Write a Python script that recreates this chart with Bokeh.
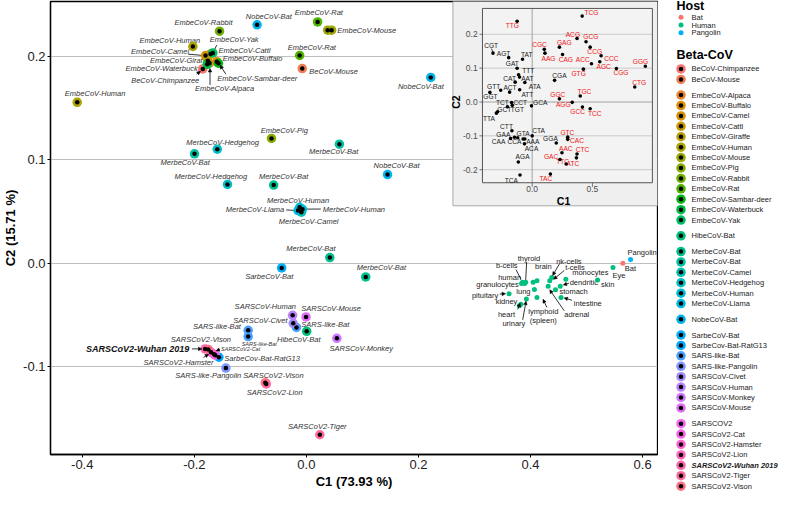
import math
from bokeh.plotting import figure
from bokeh.models import (ColumnDataSource, Range1d, FixedTicker, NumeralTickFormatter,
                          Arrow, NormalHead)
from bokeh.layouts import row
from bokeh.embed import file_html
from bokeh.resources import INLINE
from bokeh.core.properties import value

FONT = "Liberation Sans"

# ------------------------------------------------------------------ data
beta_names = [
    "BeCoV-Chimpanzee", "BeCoV-Mouse",
    "EmbeCoV-Alpaca", "EmbeCoV-Buffalo", "EmbeCoV-Camel", "EmbeCoV-Cattl", "EmbeCoV-Giraffe",
    "EmbeCoV-Human", "EmbeCoV-Mouse", "EmbeCoV-Pig", "EmbeCoV-Rabbit", "EmbeCoV-Rat",
    "EmbeCoV-Sambar-deer", "EmbeCoV-Waterbuck", "EmbeCoV-Yak",
    "HibeCoV-Bat",
    "MerbeCoV-Bat", "MerbeCoV-Bat", "MerbeCoV-Camel", "MerbeCoV-Hedgehog", "MerbeCoV-Human",
    "MerbeCoV-Llama",
    "NobeCoV-Bat",
    "SarbeCoV-Bat", "SarbeCov-Bat-RatG13", "SARS-like-Bat", "SARS-like-Pangolin",
    "SARSCoV-Civet", "SARSCoV-Human", "SARSCoV-Monkey", "SARSCoV-Mouse",
    "SARSCOV2", "SARSCoV2-Cat", "SARSCoV2-Hamster", "SARSCoV2-Lion", "SARSCoV2-Wuhan 2019",
    "SARSCoV2-Tiger", "SARSCoV2-Vison",
]
beta_groups = (["Be"] * 2 + ["Embe"] * 13 + ["Hibe"] + ["Merbe"] * 6 + ["Nobe"]
               + ["Sarbe"] * 8 + ["SARS2"] * 7)

host_names = ["Bat", "Human", "Pangolin"]
host_colors = ["#F8766D", "#00BF7D", "#00B0F6"]

# virus points: legend entry index, C1, C2
virus_entry = [0, 1, 2, 3, 4, 5, 6, 7, 7, 8, 8, 9, 10, 11, 11, 12, 13, 14, 15,
               17, 17, 16, 16, 16, 18, 19, 19, 20, 20, 21, 22, 22, 22, 23, 24,
               25, 25, 25, 26, 27, 28, 29, 30, 31, 32, 33, 34, 35, 36, 37, 37]
virus_c1 = [-0.185, -0.0074, -0.173, -0.160, -0.180, -0.171, -0.176, -0.2026, -0.409,
            0.038, 0.045, -0.0623, -0.155, 0.020, -0.012, -0.157, -0.177, -0.167, 0.0005,
            -0.1997, 0.0589, -0.0584, 0.0418, 0.1059, -0.009, -0.159, -0.1408, -0.012,
            -0.007, -0.015, -0.088, 0.222, 0.1448, -0.0441, -0.1562,
            -0.0177, -0.1039, -0.1039, -0.1437, -0.0235, -0.0246, 0.0544, -0.0006,
            -0.1626, -0.1648, -0.170, -0.0716, -0.1808, 0.024, -0.175, -0.0733]
virus_c2 = [0.188, 0.1884, 0.1937, 0.195, 0.201, 0.2025, 0.196, 0.2097, 0.1557,
            0.2255, 0.2255, 0.1208, 0.2245, 0.2335, 0.201, 0.1935, 0.1925, 0.2035, -0.0656,
            0.106, 0.1153, 0.0757, 0.0057, -0.0131, 0.0495, 0.1104, 0.0764, 0.0542,
            0.0523, 0.0511, 0.2307, 0.1798, 0.0859, -0.0044, -0.0906,
            -0.0619, -0.0646, -0.0707, -0.1011, -0.0579, -0.0502, -0.0724, -0.0517,
            -0.0887, -0.0878, -0.0859, -0.1165, -0.0826, -0.1656, -0.0831, -0.1153]

# labels of virus points (text, x, y, align, kind)
vlab_text = ["BeCoV-Chimpanzee", "BeCoV-Mouse", "EmbeCoV-Alpaca", "EmbeCoV-Buffalo",
             "EmbeCoV-Camel", "EmbeCoV-Cattl", "EmbeCoV-Giraffe", "EmbeCoV-Human",
             "EmbeCoV-Human", "EmbeCoV-Mouse", "EmbeCoV-Pig", "EmbeCoV-Rabbit", "EmbeCoV-Rat",
             "EmbeCoV-Rat", "EmbeCoV-Sambar-deer", "EmbeCoV-Waterbuck", "EmbeCoV-Yak",
             "HibeCoV-Bat", "MerbeCoV-Bat", "MerbeCoV-Bat", "MerbeCoV-Bat", "MerbeCoV-Bat",
             "MerbeCoV-Bat", "MerbeCoV-Camel", "MerbeCoV-Hedgehog", "MerbeCoV-Hedgehog",
             "MerbeCoV-Human", "MerbeCoV-Human", "MerbeCoV-Llama", "NobeCoV-Bat",
             "NobeCoV-Bat", "NobeCoV-Bat", "SarbeCoV-Bat", "SarbeCov-Bat-RatG13",
             "SARS-like-Bat", "SARS-like-Bat", "SARS-like-Bat", "SARS-like-Pangolin",
             "SARSCoV-Civet", "SARSCoV-Human", "SARSCoV-Monkey", "SARSCoV-Mouse",
             "SARSCoV2-Cat", "SARSCoV2-Hamster", "SARSCoV2-Lion", "SARSCoV2-Wuhan 2019",
             "SARSCoV2-Tiger", "SARSCoV2-Vison", "SARSCoV2-Vison"]
vlab_x = [-0.252, 0.0052, -0.146, -0.1494, -0.261, -0.1567, -0.2266, -0.2438, -0.377,
          0.055, -0.0395, -0.1837, 0.0223, 0.0098, -0.0876, -0.2584, -0.1288,
          -0.0137, -0.2163, 0.0486, -0.0407, 0.0081, 0.1339, 0.004, -0.1494, -0.1705,
          -0.0149, 0.0292, -0.0395, -0.067, 0.2043, 0.1609, -0.0664, -0.1464,
          -0.0091, -0.1597, -0.0841, -0.1751, -0.082, -0.0733, 0.0979, -0.0091,
          -0.1523, -0.2283, -0.0567, -0.2089, 0.0194, -0.1883, -0.0589]
vlab_y = [0.1764, 0.186, 0.169, 0.1977, 0.2051, 0.2054, 0.1958, 0.2159, 0.1646,
          0.2255, 0.1289, 0.2326, 0.2424, 0.2088, 0.1792, 0.1884, 0.2162,
          -0.0733, 0.098, 0.1079, 0.0844, 0.0146, -0.0039, 0.0409, 0.1171, 0.0838,
          0.0613, 0.0526, 0.0517, 0.2384, 0.1713, 0.0946, -0.0125, -0.0919,
          -0.0591, -0.0606, -0.078, -0.1088, -0.0554, -0.0421, -0.0819, -0.0437,
          -0.0831, -0.0961, -0.1248, -0.0826, -0.1579, -0.0739, -0.1079]
vlab_align = ["center", "left", "center", "left", "center", "left", "center", "center",
              "center", "left", "center", "center", "center", "center", "center", "center",
              "center", "center", "center", "center", "center", "center", "center", "center",
              "center", "center", "center", "left", "right", "center", "center", "center",
              "center", "left", "left", "center", "center", "center", "center", "center",
              "center", "left", "left", "center", "center", "right", "center", "center",
              "center"]
vlab_kind = ["n"] * 36 + ["s"] + ["n"] * 5 + ["s"] + ["n"] * 2 + ["b"] + ["n"] * 3

# leader lines / arrows of virus labels
vseg_x0 = [-0.211, -0.160, -0.036, 0.0258]
vseg_y0 = [0.2023, 0.2110, 0.0517, 0.0526]
vseg_x1 = [-0.184, -0.166, -0.018, -0.004]
vseg_y1 = [0.201, 0.2045, 0.0512, 0.0525]
varr_x0 = [-0.196, -0.172, -0.1437, -0.2043, -0.1545, -0.1837]
varr_y0 = [0.1829, 0.1725, 0.1829, -0.0826, -0.0831, -0.0909]
varr_x1 = [-0.189, -0.172, -0.154, -0.1865, -0.1612, -0.1745]
varr_y1 = [0.1857, 0.1885, 0.1915, -0.0826, -0.0845, -0.0878]

# host samples (tissues etc.)
tissue_name = ["skin", "monocytes", "dendritic", "stomach", "intestine", "adrenal", "t-cells",
               "nk-cells", "brain", "brain", "lung", "thyroid", "b-cells", "human",
               "granulocytes", "pituitary", "kidney", "heart", "urinary", "lymphoid (spleen)",
               "Eye", "Bat", "Pangolin"]
tissue_host = [1] * 21 + [0, 2]
tissue_c1 = [0.5196, 0.463, 0.453, 0.4446, 0.4544, 0.4315, 0.4343, 0.4378, 0.4115, 0.4046,
             0.4069, 0.3914, 0.3857, 0.384, 0.3895, 0.3617, 0.3926, 0.3828, 0.3799, 0.4115,
             0.5471, 0.5648, 0.5785]
tissue_c2 = [-0.0159, -0.0153, -0.022, -0.0255, -0.0329, -0.022, -0.0168, -0.0137, -0.0168,
             -0.0183, -0.0252, -0.0183, -0.0183, -0.0193, -0.0195, -0.0292, -0.0344, -0.0394,
             -0.0409, -0.0329, -0.0039, 0.0002, 0.0039]
tlab_text = ["skin", "monocytes", "dendritic", "stomach", "intestine", "adrenal", "t-cells",
             "nk-cells", "brain", "lung", "thyroid", "b-cells", "human", "granulocytes",
             "pituitary", "kidney", "heart", "urinary", "lymphoid\n(spleen)", "Eye", "Bat",
             "Pangolin"]
tlab_x = [0.5258, 0.4743, 0.4699, 0.4515, 0.4773, 0.4601, 0.4618, 0.4458, 0.4228, 0.400,
          0.3971, 0.3576, 0.3627, 0.3411, 0.3188, 0.3571, 0.3571, 0.3703, 0.4228, 0.5579,
          0.5682, 0.5991]
tlab_y = [-0.0206, -0.0091, -0.0183, -0.0276, -0.0387, -0.0498, -0.0039, 0.0023, -0.003,
          -0.0267, 0.0048, -0.0023, -0.0137, -0.0206, -0.031, -0.0369, -0.0498, -0.0585,
          -0.0505, -0.0116, -0.0046, 0.0109]
tlab_align = ["left"] * 8 + ["center", "right"] + ["center"] * 10 + ["left", "center"]
tseg_x0 = [0.3931, 0.3742]
tseg_y0 = [0.0014, -0.006]
tseg_x1 = [0.3914, 0.3828]
tseg_y1 = [-0.0162, -0.0153]
tarr_x0 = [0.4687, 0.4738, 0.4601, 0.4601, 0.4515, 0.3451, 0.377, 0.386, 0.4292]
tarr_y0 = [-0.019, -0.0356, -0.0458, -0.0069, -0.0005, -0.0296, -0.0445, -0.0545, -0.0425]
tarr_x1 = [0.4584, 0.460, 0.4343, 0.4412, 0.4395, 0.3554, 0.3815, 0.392, 0.4223]
tarr_y1 = [-0.0208, -0.0333, -0.0255, -0.0153, -0.0116, -0.0292, -0.0385, -0.0365, -0.0347]

# inset: codon coordinates (C1, C2) ; red = GC3 codons
codon_name = ["TTG", "TCG", "ACG", "GCG", "GAG", "CGC", "AAG", "CAG", "CCG", "ACC", "CCC",
              "AGC", "GTG", "CGG", "GGG", "CTG", "TGC", "GGC", "AGG", "GCC", "TCC", "GTC",
              "CAC", "AAC", "CTC", "GAC", "ATC", "TTC", "TAC",
              "CGT", "AGT", "TAT", "GAT", "TTT", "CAT", "AAT", "ATA", "ATT", "CGA", "GTT",
              "ACT", "GGT", "TCT", "CCT", "GCA", "TGT", "GCT", "TTA", "CTT", "GAA", "GTA",
              "CTA", "CAA", "CCA", "AAA", "ACA", "GGA", "AGA", "TCA"]
codon_red = [True] * 29 + [False] * 30
codon_c1 = [-0.125, 0.415, 0.372, 0.447, 0.226, 0.1006, 0.106, 0.252, 0.481, 0.492, 0.572,
            0.561, 0.425, 0.699, 0.939, 0.851, 0.399, 0.226, 0.332, 0.417, 0.481, 0.295,
            0.295, 0.247, 0.372, 0.231, 0.367, 0.282, 0.151,
            -0.325, -0.195, -0.08, -0.125, -0.113, -0.105, -0.061, -0.141, -0.104, 0.186,
            -0.351, -0.261, -0.187, -0.205, -0.171, -0.0056, -0.165, -0.287, -0.297, -0.168,
            -0.147, -0.075, 0.0, -0.179, -0.12, -0.061, -0.064, 0.2, -0.115, -0.101]
codon_c2 = [0.2385, 0.2537, 0.1876, 0.178, 0.162, 0.1556, 0.1443, 0.1405, 0.162, 0.113,
            0.1366, 0.119, 0.097, 0.099, 0.1055, 0.0444, 0.0178, 0.0093, -0.001, -0.015,
            -0.0198, -0.1038, -0.1103, -0.15, -0.1536, -0.1697, -0.165, -0.183, -0.213,
            0.1443, 0.131, 0.1264, 0.0999, 0.0806, 0.0735, 0.0574, 0.0586, 0.036, 0.064,
            0.0283, 0.0348, 0.0291, -0.0141, -0.0014, -0.0113, -0.0099, -0.029, -0.033,
            -0.0849, -0.104, -0.1095, -0.1, -0.108, -0.1055, -0.1095, -0.1236, -0.121,
            -0.1774, -0.2158]
codon_lx = [-0.165, 0.4916, 0.3376, 0.4868, 0.2658, 0.0607, 0.1357, 0.2793, 0.5188, 0.4198,
            0.6568, 0.593, 0.3855, 0.7366, 0.8986, 0.8883, 0.4334, 0.2123, 0.2578, 0.3775,
            0.5188, 0.2921, 0.3719, 0.2793, 0.4174, 0.1564, 0.3376, 0.2522, 0.1141,
            -0.3408, -0.237, -0.0455, -0.165, -0.0319, -0.1868, -0.0399, 0.0207, -0.0399,
            0.2259, -0.3192, -0.1836, -0.3464, -0.2474, -0.099, 0.0662, -0.1229, -0.2314,
            -0.3591, -0.2131, -0.2394, -0.075, 0.0527, -0.2793, -0.1468, 0.0048, -0.0056,
            0.1516, -0.0798, -0.1732]
codon_ly = [0.2263, 0.2639, 0.2008, 0.1924, 0.1762, 0.1689, 0.1293, 0.1264, 0.1491, 0.1264,
            0.1273, 0.1047, 0.0829, 0.0857, 0.1197, 0.0574, 0.0303, 0.0218, -0.0085, -0.0291,
            -0.0339, -0.0905, -0.1151, -0.1378, -0.1406, -0.1612, -0.1802, -0.1762, -0.2272,
            0.1678, 0.1443, 0.1406, 0.1132, 0.0942, 0.0707, 0.0707, 0.0472, 0.0235, 0.0772,
            0.0472, 0.0424, 0.0161, 0.0, 0.0, 0.0, -0.0218, -0.0235, -0.0501, -0.0727,
            -0.0962, -0.0925, -0.0829, -0.116, -0.118, -0.1168, -0.1386, -0.1083, -0.1621,
            -0.2311]

x_ticks = [-0.4, -0.2, 0.0, 0.2, 0.4, 0.6]
y_ticks = [-0.1, 0.0, 0.1, 0.2]
inset_x_ticks = [0.0, 0.5]
inset_x_labels = ["0.0", "0.5"]
inset_y_ticks = [-0.2, -0.1, 0.0, 0.1, 0.2]
inset_y_labels = ["-0.2", "-0.1", "0.0", "0.1", "0.2"]


# ------------------------------------------------------------------ colours
def hcl_hex(h, c=100.0, l=65.0):
    hr = math.radians(h)
    u, v = c * math.cos(hr), c * math.sin(hr)
    Xn, Yn, Zn = 95.047, 100.0, 108.883
    un = 4 * Xn / (Xn + 15 * Yn + 3 * Zn)
    vn = 9 * Yn / (Xn + 15 * Yn + 3 * Zn)
    Y = Yn * (((l + 16) / 116) ** 3 if l > 8 else l / 903.3)
    up = u / (13 * l) + un
    vp = v / (13 * l) + vn
    X = 9.0 * Y * up / (4 * vp)
    Z = (9 * Y / vp - X - 15 * Y) / 3
    X, Y, Z = X / 100, Y / 100, Z / 100
    r = 3.240479 * X - 1.537150 * Y - 0.498535 * Z
    g = -0.969256 * X + 1.875992 * Y + 0.041556 * Z
    b = 0.055648 * X - 0.204043 * Y + 1.057311 * Z

    def gam(t):
        t = max(0.0, min(1.0, t))
        return 12.92 * t if t <= 0.0031308 else 1.055 * t ** (1 / 2.4) - 0.055
    return "#%02X%02X%02X" % tuple(int(round(255 * gam(t))) for t in (r, g, b))


n_beta = len(beta_names)
beta_colors = [hcl_hex(15 + 360 * i / n_beta) for i in range(n_beta)]

# ------------------------------------------------------------------ main figure
MAIN_W, LEG_W, H = 658, 122, 491
XR = (-0.4567, 0.6266)
YR = (-0.1847, 0.2532)
p = figure(width=MAIN_W, height=H, x_range=Range1d(*XR), y_range=Range1d(*YR),
           output_backend="svg", toolbar_location=None,
           min_border_left=0, min_border_right=1, min_border_top=1, min_border_bottom=0)
p.outline_line_color = "black"
p.outline_line_width = 1.3
p.xgrid.visible = False
p.ygrid.ticker = FixedTicker(ticks=y_ticks)
p.ygrid.grid_line_color = "#BEBEBE"
p.ygrid.grid_line_width = 1
p.xaxis.ticker = FixedTicker(ticks=x_ticks)
p.yaxis.ticker = FixedTicker(ticks=y_ticks)
p.xaxis.formatter = NumeralTickFormatter(format="0.0")
p.yaxis.formatter = NumeralTickFormatter(format="0.0")
p.xaxis.axis_label = "C1 (73.93 %)"
p.yaxis.axis_label = "C2 (15.71 %)"
for ax in (p.xaxis, p.yaxis):
    ax.axis_label_text_font = FONT
    ax.axis_label_text_font_style = "bold"
    ax.axis_label_text_font_size = "13px"
    ax.axis_label_text_color = "black"
    ax.major_label_text_font = FONT
    ax.major_label_text_font_size = "13px"
    ax.major_label_text_color = "#222222"
    ax.minor_tick_line_color = None
    ax.major_tick_out = 3
    ax.major_tick_in = 0
    ax.major_label_standoff = 2
    ax.axis_label_standoff = 2
    ax.axis_line_color = "black"
    ax.axis_line_width = 1.3

# virus labels (drawn first, points on top)
styles = {"n": ("7.5px", "italic"), "s": ("5.5px", "italic"), "b": ("9px", "bold italic")}
for kind in ("n", "s", "b"):
    for al in ("left", "center", "right"):
        idx = [i for i in range(len(vlab_text)) if vlab_kind[i] == kind and vlab_align[i] == al]
        if not idx:
            continue
        fs, st = styles[kind]
        p.text(x=[vlab_x[i] for i in idx], y=[vlab_y[i] for i in idx],
               text=[vlab_text[i] for i in idx], text_font=value(FONT),
               text_font_size=value(fs), text_font_style=value(st),
               text_align=value(al), text_baseline=value("middle"),
               text_color="#111111" if kind == "b" else "#333333")

# tissue labels
for al in ("left", "center", "right"):
    idx = [i for i in range(len(tlab_text)) if tlab_align[i] == al]
    p.text(x=[tlab_x[i] for i in idx], y=[tlab_y[i] for i in idx],
           text=[tlab_text[i] for i in idx], text_font=value(FONT),
           text_font_size=value("7.5px"), text_align=value(al),
           text_baseline=value("middle"), text_color="#1A1A1A",
           text_line_height=1.0)

p.segment(x0=vseg_x0, y0=vseg_y0, x1=vseg_x1, y1=vseg_y1, line_color="black", line_width=0.8)
p.segment(x0=tseg_x0, y0=tseg_y0, x1=tseg_x1, y1=tseg_y1, line_color="black", line_width=0.8)

# virus points
vsrc = ColumnDataSource(dict(x=virus_c1, y=virus_c2,
                             color=[beta_colors[e] for e in virus_entry]))
p.scatter("x", "y", source=vsrc, size=9.5, fill_color="color", line_color=None)
p.scatter("x", "y", source=vsrc, size=4.5, fill_color="black", line_color=None)

# host sample points
p.scatter(tissue_c1, tissue_c2, size=5, line_color=None,
          fill_color=[host_colors[h] for h in tissue_host])

for xs0, ys0, xs1, ys1 in ((varr_x0, varr_y0, varr_x1, varr_y1),
                           (tarr_x0, tarr_y0, tarr_x1, tarr_y1)):
    src = ColumnDataSource(dict(x0=xs0, y0=ys0, x1=xs1, y1=ys1))
    p.add_layout(Arrow(end=NormalHead(size=3.5, line_color="black", fill_color="black",
                                      line_width=0.5),
                       x_start="x0", y_start="y0", x_end="x1", y_end="y1", source=src,
                       line_color="black", line_width=0.8))

# ------------------------------------------------------------------ inset
INSET_BOX = dict(left=0.2615, right=XR[1], bottom=0.0557, top=YR[1])
p.quad(**INSET_BOX, fill_color="#EFEFEF", line_color="#A8A8A8", line_width=1)

IX = (-0.4126, 0.9976)
IY = (-0.2385, 0.2764)
ins = p.subplot(x_source=Range1d(*IX), y_source=Range1d(*IY),
                x_target=Range1d(0.3142, 0.6175), y_target=Range1d(0.078, 0.2465))
ins.quad(left=[IX[0]], right=[IX[1]], bottom=[IY[0]], top=[IY[1]],
         fill_color="#F3F3F3", line_color=None)
ins.segment(x0=[IX[0]] * len(inset_y_ticks), x1=[IX[1]] * len(inset_y_ticks),
            y0=inset_y_ticks, y1=inset_y_ticks,
            line_color=["#C4C4C4" if t != 0 else "#9A9A9A" for t in inset_y_ticks],
            line_width=0.9)
ins.segment(x0=[0.0], x1=[0.0], y0=[IY[0]], y1=[IY[1]], line_color="#9A9A9A", line_width=0.9)
ins.quad(left=[IX[0]], right=[IX[1]], bottom=[IY[0]], top=[IY[1]],
         fill_color=None, line_color="#555555", line_width=1)
# tick marks
ins.segment(x0=[IX[0] - 0.025] * len(inset_y_ticks), x1=[IX[0]] * len(inset_y_ticks),
            y0=inset_y_ticks, y1=inset_y_ticks, line_color="#555555", line_width=0.8)
ins.segment(x0=inset_x_ticks, x1=inset_x_ticks, y0=[IY[0] - 0.012] * 2, y1=[IY[0]] * 2,
            line_color="#555555", line_width=0.8)
ins.text(x=[IX[0] - 0.04] * len(inset_y_ticks), y=inset_y_ticks, text=inset_y_labels,
         text_font=value(FONT), text_font_size=value("8.5px"), text_align=value("right"),
         text_baseline=value("middle"), text_color="#4D4D4D")
ins.text(x=inset_x_ticks, y=[IY[0] - 0.019] * 2, text=inset_x_labels,
         text_font=value(FONT), text_font_size=value("8.5px"), text_align=value("center"),
         text_baseline=value("middle"), text_color="#4D4D4D")
ins.text(x=[0.26], y=[-0.292], text=["C1"], text_font=value(FONT),
         text_font_size=value("10.5px"), text_font_style=value("bold"),
         text_align=value("center"), text_baseline=value("middle"), text_color="black")
ins.text(x=[-0.628], y=[0.0], text=["C2"], text_font=value(FONT), angle=math.pi / 2,
         text_font_size=value("10.5px"), text_font_style=value("bold"),
         text_align=value("center"), text_baseline=value("middle"), text_color="black")
# CGT leader line
ins.segment(x0=[-0.338], y0=[0.158], x1=[-0.326], y1=[0.147], line_color="black",
            line_width=0.7)
ins.text(x=codon_lx, y=codon_ly, text=codon_name, text_font=value(FONT),
         text_font_size=value("6.6px"), text_align=value("center"),
         text_baseline=value("middle"),
         text_color=["#F01414" if r else "#1A1A1A" for r in codon_red])
ins.scatter(codon_c1, codon_c2, size=3.6, fill_color="black", line_color=None)

# ------------------------------------------------------------------ legend panel
lg = figure(width=LEG_W, height=H, x_range=Range1d(0, LEG_W), y_range=Range1d(507, 0),
            output_backend="svg", toolbar_location=None, x_axis_location=None,
            y_axis_location=None, min_border=0, min_border_left=0, min_border_right=0,
            min_border_top=0, min_border_bottom=0, outline_line_color=None)
lg.grid.visible = False
try:
    lg.frame_align = False
except Exception:
    pass

KEY_X, TEXT_X, TITLE_X = 22.5, 33.0, 18.0
lg.text(x=[TITLE_X, TITLE_X], y=[5.5, 56.5], text=["Host", "Beta-CoV"], text_font=value(FONT),
        text_font_size=value("12.5px"), text_font_style=value("bold"),
        text_baseline=value("middle"), text_color="black")
host_y = [17.3 + 8.0 * i for i in range(len(host_names))]
lg.scatter([KEY_X] * len(host_names), host_y, size=5, fill_color=host_colors, line_color=None)
lg.text(x=[TEXT_X] * len(host_names), y=host_y, text=host_names, text_font=value(FONT),
        text_font_size=value("7.5px"), text_baseline=value("middle"), text_color="#1A1A1A")

beta_y = []
g = 0
for i in range(n_beta):
    if i > 0 and beta_groups[i] != beta_groups[i - 1]:
        g += 1
    beta_y.append(70.7 + 10.75 * i + 5.5 * g)
lg.scatter([KEY_X] * n_beta, beta_y, size=9.5, fill_color=beta_colors, line_color=None)
lg.scatter([KEY_X] * n_beta, beta_y, size=4.5, fill_color="black", line_color=None)
normal = [i for i in range(n_beta) if beta_names[i] != "SARSCoV2-Wuhan 2019"]
bold = [i for i in range(n_beta) if beta_names[i] == "SARSCoV2-Wuhan 2019"]
lg.text(x=[TEXT_X] * len(normal), y=[beta_y[i] for i in normal],
        text=[beta_names[i] for i in normal], text_font=value(FONT),
        text_font_size=value("7.5px"), text_baseline=value("middle"), text_color="#1A1A1A")
lg.text(x=[TEXT_X] * len(bold), y=[beta_y[i] for i in bold],
        text=[beta_names[i] for i in bold], text_font=value(FONT),
        text_font_size=value("7.5px"), text_font_style=value("bold italic"),
        text_baseline=value("middle"), text_color="#1A1A1A")

layout = row(p, lg)
open("out.html", "w").write(file_html(layout, INLINE, "PCA"))
